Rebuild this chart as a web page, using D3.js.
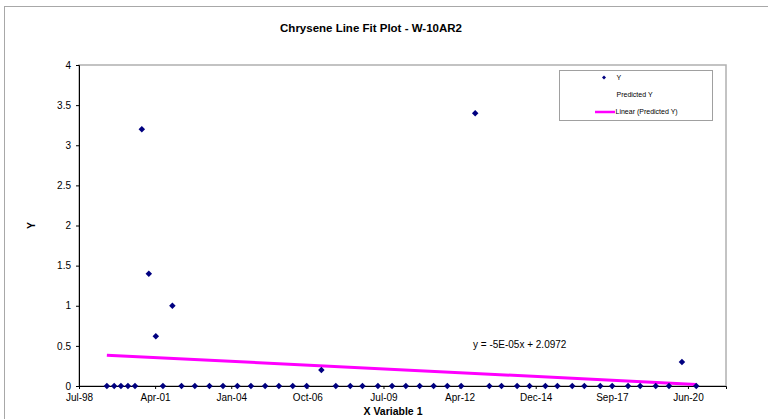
<!DOCTYPE html>
<html>
<head>
<meta charset="utf-8">
<script src="https://cdn.jsdelivr.net/npm/d3@7"></script>
<style>
  html, body { margin: 0; padding: 0; background: #fff; }
  svg { display: block; font-family: "Liberation Sans", Arial, sans-serif; }
</style>
</head>
<body>
<svg id="chart" width="768" height="419"></svg>
<script>
// Chrysene results for well W-10AR2 (sample date, concentration)
const sampleDates = [
  "1999-07-25", "1999-10-29", "2000-01-26", "2000-04-27", "2000-07-29", "2000-10-26",
  "2001-01-26", "2001-04-28", "2001-07-31", "2001-12-02", "2002-04-01", "2002-09-23",
  "2003-04-03", "2003-09-28", "2004-04-04", "2004-09-29", "2005-04-03", "2005-10-01",
  "2006-04-01", "2006-10-01", "2007-04-12", "2007-10-19", "2008-04-26", "2008-10-03",
  "2009-04-24", "2009-10-27", "2010-04-26", "2010-10-25", "2011-04-26", "2011-10-23",
  "2012-04-22", "2012-10-23", "2013-04-27", "2013-10-04", "2014-04-27", "2014-10-07",
  "2015-05-03", "2015-10-08", "2016-04-20", "2016-09-26", "2017-04-23", "2017-09-27",
  "2018-04-23", "2018-09-30", "2019-04-22", "2019-10-13", "2020-03-31", "2020-10-05"
];
const yValues = [
  0, 0, 0, 0, 0, 3.2,
  1.4, 0.62, 0, 1.0, 0, 0,
  0, 0, 0, 0, 0, 0,
  0, 0, 0.2, 0, 0, 0,
  0, 0, 0, 0, 0, 0,
  0, 3.4, 0, 0, 0, 0,
  0, 0, 0, 0, 0, 0,
  0, 0, 0, 0, 0.3, 0
];

// X axis is in spreadsheet date serial numbers (days since 1899-12-30)
const xDomain = [36000, 44500];
const xTicks = [36000, 37000, 38000, 39000, 40000, 41000, 42000, 43000, 44000];
const yDomain = [0, 4];
const yTicks = [0, 0.5, 1, 1.5, 2, 2.5, 3, 3.5, 4];

// Linear trendline on the predicted series
const trendSlope = -4.71e-5;
const trendIntercept = 2.0972;

const chartTitle = "Chrysene Line Fit Plot - W-10AR2";
const xTitle = "X Variable 1";
const yTitle = "Y";
const legendLabels = ["Y", "Predicted Y", "Linear (Predicted Y)"];

const EPOCH = Date.UTC(1899, 11, 30);
const DAY = 86400000;
const toSerial = s => { const [y, m, d] = s.split("-").map(Number); return (Date.UTC(y, m - 1, d) - EPOCH) / DAY; };
const fromSerial = n => new Date(EPOCH + n * DAY);
const fmtTick = d3.utcFormat("%b-%y");

const points = sampleDates.map((d, i) => ({ x: toSerial(d), y: yValues[i] }));

const svg = d3.select("#chart");
const plot = { left: 79, right: 726, top: 65, bottom: 386 };

const x = d3.scaleLinear().domain(xDomain).range([plot.left, plot.right]);
const y = d3.scaleLinear().domain(yDomain).range([plot.bottom, plot.top]);

// chart area frame
svg.append("rect")
  .attr("x", 4.5).attr("y", 6.5).attr("width", 900).attr("height", 600)
  .attr("fill", "#fff").attr("stroke", "#a8a8a8").attr("stroke-width", 1);

// plot area frame
svg.append("rect")
  .attr("x", plot.left).attr("y", plot.top)
  .attr("width", plot.right - plot.left).attr("height", plot.bottom - plot.top)
  .attr("fill", "#fff").attr("stroke", "#b0b0b0").attr("stroke-width", 1.5);

// title
svg.append("text")
  .attr("x", 371).attr("y", 32)
  .attr("text-anchor", "middle")
  .attr("font-size", 11.5).attr("font-weight", "bold")
  .text(chartTitle);

// y axis
const yAxis = svg.append("g")
  .attr("transform", `translate(${plot.left},0)`)
  .call(d3.axisLeft(y).tickValues(yTicks).tickSize(3).tickPadding(5).tickFormat(d3.format("")));
yAxis.selectAll("text").attr("font-size", 10).attr("font-family", null).attr("fill", "#000");
yAxis.selectAll("line").attr("stroke", "#000");
yAxis.select(".domain").attr("stroke", "#000");

// x axis
const xAxis = svg.append("g")
  .attr("transform", `translate(0,${plot.bottom})`)
  .call(d3.axisBottom(x).tickValues(xTicks).tickSize(3).tickPadding(4.5)
    .tickFormat(v => fmtTick(fromSerial(v))));
xAxis.selectAll("text").attr("font-size", 10).attr("font-family", null).attr("fill", "#000");
xAxis.selectAll("line").attr("stroke", "#000");
xAxis.select(".domain").attr("stroke", "#000");

// axis titles
svg.append("text")
  .attr("x", 393).attr("y", 415)
  .attr("text-anchor", "middle")
  .attr("font-size", 10.5).attr("font-weight", "bold")
  .text(xTitle);
svg.append("text")
  .attr("transform", `translate(35,${(plot.top + plot.bottom) / 2}) rotate(-90)`)
  .attr("text-anchor", "middle")
  .attr("font-size", 10.5).attr("font-weight", "bold")
  .text(yTitle);

// trendline across the sampled date range
const xExtent = d3.extent(points, d => d.x);
const trend = xExtent.map(v => ({ x: v, y: trendSlope * v + trendIntercept }));
svg.append("path")
  .datum(trend)
  .attr("fill", "none")
  .attr("stroke", "#ff00ff")
  .attr("stroke-width", 3)
  .attr("d", d3.line().x(d => x(d.x)).y(d => y(d.y)));

// observed values as navy diamonds
const diamond = d3.symbol(d3.symbolSquare, 21);
svg.append("g").selectAll("path")
  .data(points)
  .join("path")
  .attr("transform", d => `translate(${x(d.x)},${y(d.y)}) rotate(45)`)
  .attr("d", diamond)
  .attr("fill", "#000080");

// trendline equation, written the way a spreadsheet shows it
function sciLabel(v) {
  const [m, e] = v.toExponential(0).split("e");
  const n = +e;
  return m + "E" + (n < 0 ? "-" : "+") + String(Math.abs(n)).padStart(2, "0");
}
svg.append("text")
  .attr("x", 473).attr("y", 348)
  .attr("font-size", 10)
  .text(`y = ${sciLabel(trendSlope)}x + ${trendIntercept.toFixed(4)}`);

// legend
const lg = svg.append("g");
lg.append("rect")
  .attr("x", 559.5).attr("y", 70.5).attr("width", 153).attr("height", 50)
  .attr("fill", "#fff").attr("stroke", "#a0a0a0").attr("stroke-width", 1);
lg.append("path")
  .attr("transform", "translate(604,77.5) rotate(45)")
  .attr("d", d3.symbol(d3.symbolSquare, 8)())
  .attr("fill", "#000080");
lg.append("line")
  .attr("x1", 595).attr("x2", 615).attr("y1", 112).attr("y2", 112)
  .attr("stroke", "#ff00ff").attr("stroke-width", 2.5);
const legendY = [80, 96.5, 114];
lg.selectAll("text.lbl")
  .data(legendLabels)
  .join("text")
  .attr("class", "lbl")
  .attr("x", (d, i) => i === 2 ? 615.5 : 616.5)
  .attr("y", (d, i) => legendY[i])
  .attr("font-size", 7)
  .text(d => d);
</script>
</body>
</html>
